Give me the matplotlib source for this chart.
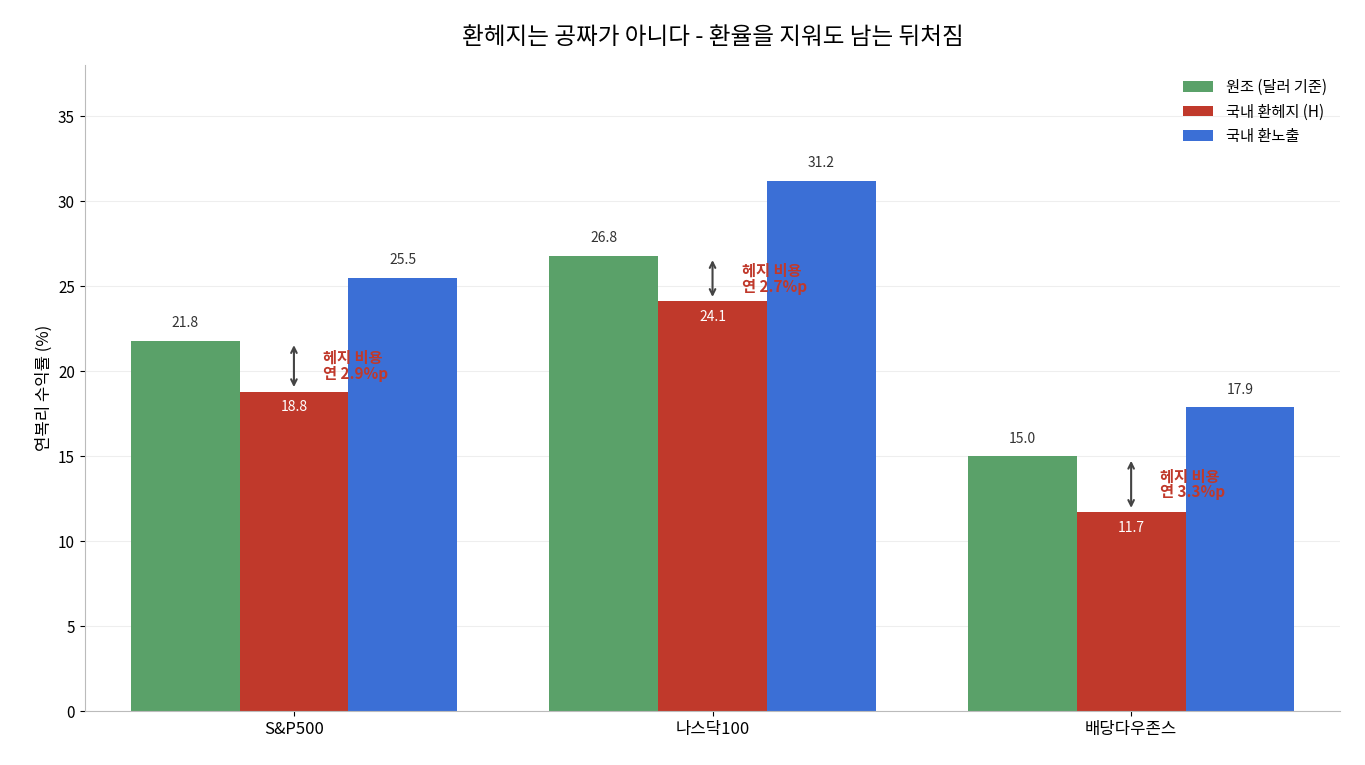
import matplotlib.pyplot as plt
import numpy as np

plt.rcParams['font.family'] = ['Noto Sans CJK KR', 'DejaVu Sans']

categories = ['S&P500', '나스닥100', '배당다우존스']
original = [21.8, 26.8, 15.0]
hedged = [18.8, 24.1, 11.7]
unhedged = [25.5, 31.2, 17.9]
hedge_cost = ['2.9', '2.7', '3.3']

green, red, blue = '#5aa169', '#c0392b', '#3b6fd6'

fig, ax = plt.subplots(figsize=(13.65, 7.65), dpi=100)
x = np.arange(len(categories))
w = 0.26

b1 = ax.bar(x - w, original, w, color=green, label='원조 (달러 기준)')
b2 = ax.bar(x, hedged, w, color=red, label='국내 환헤지 (H)')
b3 = ax.bar(x + w, unhedged, w, color=blue, label='국내 환노출')

for bars in (b1, b3):
    for b in bars:
        ax.text(b.get_x() + b.get_width() / 2, b.get_height() + 0.6, f'{b.get_height():.1f}',
                ha='center', va='bottom', fontsize=10, color='#333333')
for b in b2:
    ax.text(b.get_x() + b.get_width() / 2, b.get_height() - 0.5, f'{b.get_height():.1f}',
            ha='center', va='top', fontsize=10, color='white')

# 헤지 비용 화살표
for i in range(len(categories)):
    ax.annotate('', xy=(x[i], hedged[i] + 0.1), xytext=(x[i], original[i] - 0.1),
                arrowprops=dict(arrowstyle='<->', color='#444444', lw=1.5))
    ax.text(x[i] + 0.07, (original[i] + hedged[i]) / 2, f'헤지 비용\n연 {hedge_cost[i]}%p',
            color=red, fontsize=11, fontweight='bold', va='center', ha='left', linespacing=1.0)

ax.set_xticks(x)
ax.set_xticklabels(categories, fontsize=12)
ax.set_xlim(-0.5, 2.5)
ax.set_ylim(0, 38)
ax.set_yticks(range(0, 36, 5))
ax.tick_params(axis='y', labelsize=11)
ax.set_ylabel('연복리 수익률 (%)', fontsize=12)
ax.set_title('환헤지는 공짜가 아니다 - 환율을 지워도 남는 뒤처짐', fontsize=17, pad=15)
ax.grid(axis='y', color='#eeeeee')
ax.set_axisbelow(True)
for s in ('top', 'right'):
    ax.spines[s].set_visible(False)
for s in ('left', 'bottom'):
    ax.spines[s].set_color('#bbbbbb')
ax.legend(loc='upper right', frameon=False, fontsize=11)

plt.subplots_adjust(left=0.062, right=0.982, top=0.915, bottom=0.07)
plt.savefig('out.png')
